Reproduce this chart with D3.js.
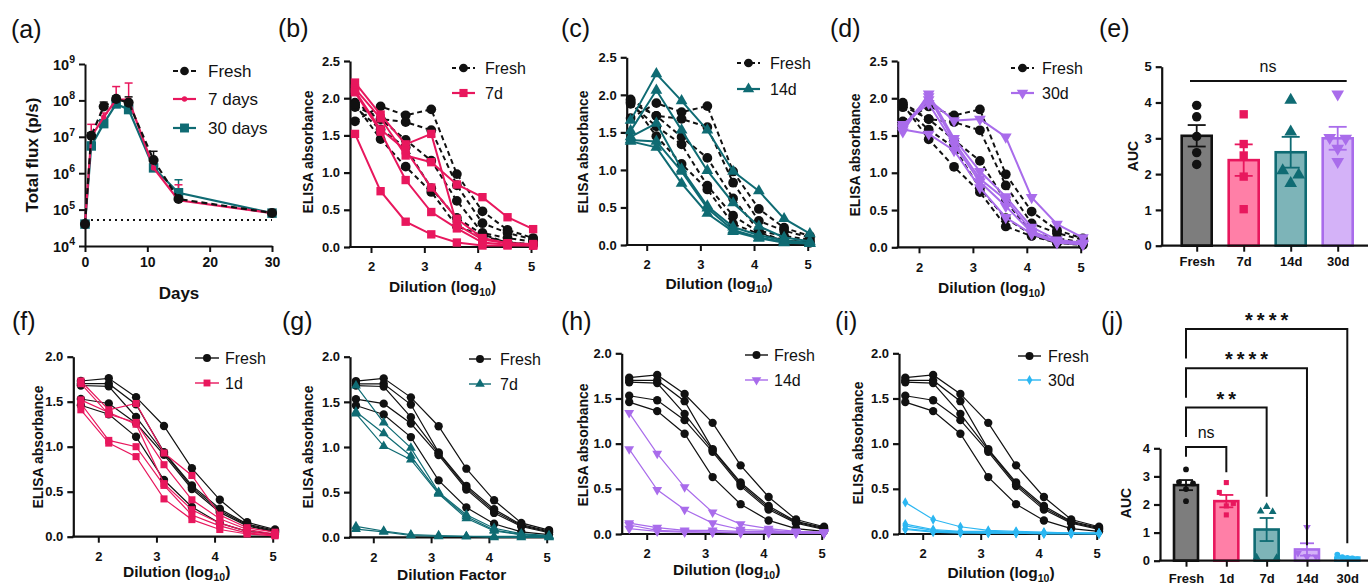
<!DOCTYPE html>
<html>
<head>
<meta charset="utf-8">
<script src="https://cdn.jsdelivr.net/npm/d3@7"></script>
<style>
  body { margin: 0; background: #fff; }
  svg { display: block; font-family: "Liberation Sans", Arial, sans-serif; }
</style>
</head>
<body>
<svg id="fig" width="1368" height="585"></svg>
<script>
// ---- data ----
const days = [0, 1, 3, 5, 7, 11, 15, 30];
const fluxFresh = [4e4, 1.07e7, 6.8e7, 1.1e8, 8.7e7, 2.3e6, 1.95e5, 8.1e4];
const fluxFreshUp = [4e4, 1.3e7, 9e7, 1.3e8, 1.25e8, 4e6, 2.3e5, 8.3e4];
const flux7 = [4e4, 1.0e7, 3.5e7, 1.05e8, 1.05e8, 1.4e6, 1.8e5, 8e4];
const flux7Up = [4e4, 2.2e7, 4.5e7, 2.4e8, 3e8, 1.8e6, 4.8e5, 8.2e4];
const flux30 = [4e4, 5.6e6, 2.3e7, 8e7, 5.6e7, 1.4e6, 2.9e5, 8e4];
const flux30Up = [4e4, 7e6, 2.8e7, 1.1e8, 9e7, 1.7e6, 6.6e5, 8.2e4];
const fluxLimit = 5.2e4;
const fluxTicks = [1e4, 1e5, 1e6, 1e7, 1e8, 1e9];

const dilutions = [1.70, 2.18, 2.65, 3.13, 3.61, 4.09, 4.56, 5.04];

const freshTop = [
  [1.69, 1.89, 1.77, 1.85, 0.98, 0.48, 0.23, 0.12],
  [1.94, 1.72, 1.68, 1.57, 0.83, 0.32, 0.19, 0.10],
  [1.90, 1.72, 1.44, 1.16, 0.62, 0.19, 0.12, 0.07],
  [1.88, 1.58, 1.34, 0.79, 0.39, 0.17, 0.06, 0.04],
  [1.92, 1.45, 1.08, 0.74, 0.28, 0.15, 0.06, 0.03]
];
const top7d = [
  [2.21, 1.78, 1.38, 1.52, 0.30, 0.10, 0.05, 0.04],
  [2.13, 1.73, 1.23, 1.14, 0.84, 0.67, 0.40, 0.24],
  [2.10, 1.58, 1.30, 0.80, 0.38, 0.12, 0.05, 0.03],
  [2.08, 1.55, 0.90, 0.47, 0.25, 0.06, 0.03, 0.02],
  [1.52, 0.75, 0.34, 0.17, 0.06, 0.02, 0.02, 0.02]
];
const top14d = [
  [1.66, 2.28, 1.92, 1.53, 0.98, 0.72, 0.35, 0.15],
  [1.52, 2.06, 1.53, 0.99, 0.56, 0.25, 0.10, 0.05],
  [1.44, 1.62, 1.01, 0.52, 0.24, 0.13, 0.06, 0.03],
  [1.40, 1.38, 0.98, 0.49, 0.20, 0.10, 0.04, 0.02],
  [1.38, 1.30, 0.82, 0.42, 0.18, 0.09, 0.03, 0.02]
];
const top30d = [
  [1.60, 1.98, 1.70, 1.72, 1.48, 0.67, 0.31, 0.13],
  [1.55, 2.06, 1.46, 1.02, 0.68, 0.27, 0.10, 0.06],
  [1.62, 2.02, 1.42, 0.92, 0.64, 0.22, 0.08, 0.05],
  [1.65, 1.93, 1.38, 0.88, 0.55, 0.20, 0.07, 0.04],
  [1.58, 1.52, 1.30, 0.80, 0.40, 0.18, 0.06, 0.04]
];

const freshBottom = [
  [1.73, 1.76, 1.55, 1.23, 0.76, 0.41, 0.16, 0.08],
  [1.70, 1.70, 1.47, 0.94, 0.57, 0.31, 0.14, 0.07],
  [1.68, 1.67, 1.33, 0.93, 0.55, 0.29, 0.13, 0.06],
  [1.53, 1.48, 1.26, 0.91, 0.53, 0.27, 0.12, 0.05],
  [1.46, 1.36, 1.11, 0.63, 0.33, 0.15, 0.06, 0.03]
];
const bottom1d = [
  [1.73, 1.41, 1.48, 0.93, 0.68, 0.24, 0.10, 0.05],
  [1.70, 1.36, 1.27, 0.80, 0.41, 0.20, 0.08, 0.03],
  [1.52, 1.38, 1.25, 0.59, 0.30, 0.15, 0.06, 0.02],
  [1.48, 1.07, 1.00, 0.57, 0.24, 0.12, 0.04, 0.02],
  [1.41, 1.04, 0.89, 0.42, 0.19, 0.08, 0.03, 0.01]
];
const bottom7d = [
  [1.68, 1.27, 0.99, 0.50, 0.25, 0.10, 0.04, 0.02],
  [1.39, 1.15, 0.90, 0.49, 0.23, 0.08, 0.03, 0.01],
  [1.37, 1.01, 0.86, 0.48, 0.21, 0.07, 0.03, 0.01],
  [0.12, 0.07, 0.03, 0.02, 0.01, 0.01, 0.01, 0.01],
  [0.09, 0.06, 0.02, 0.01, 0.01, 0.00, 0.00, 0.00]
];
const bottom14d = [
  [1.34, 0.89, 0.52, 0.24, 0.11, 0.06, 0.03, 0.02],
  [0.94, 0.49, 0.27, 0.12, 0.05, 0.04, 0.02, 0.01],
  [0.12, 0.07, 0.04, 0.04, 0.03, 0.03, 0.02, 0.02],
  [0.10, 0.04, 0.03, 0.02, 0.02, 0.02, 0.01, 0.01],
  [0.06, 0.03, 0.02, 0.02, 0.01, 0.01, 0.01, 0.01]
];
const bottom30d = [
  [0.35, 0.16, 0.08, 0.04, 0.03, 0.02, 0.01, 0.01],
  [0.11, 0.05, 0.03, 0.03, 0.02, 0.01, 0.01, 0.01],
  [0.09, 0.04, 0.02, 0.02, 0.01, 0.01, 0.01, 0.01],
  [0.06, 0.03, 0.02, 0.01, 0.01, 0.01, 0.01, 0.00],
  [0.05, 0.02, 0.01, 0.01, 0.01, 0.00, 0.00, 0.00]
];

const aucGroupsE = ['Fresh', '7d', '14d', '30d'];
const aucMeanE = [3.07, 2.39, 2.61, 3.00];
const aucSemE = [0.30, 0.44, 0.43, 0.32];
const aucPointsE = [
  [3.92, 3.60, 3.05, 2.60, 2.27],
  [3.67, 2.84, 2.52, 1.93, 1.02],
  [4.07, 3.18, 2.10, 1.98, 1.74],
  [4.23, 3.02, 3.00, 2.72, 2.35]
];

const aucGroupsJ = ['Fresh', '1d', '7d', '14d', '30d'];
const aucMeanJ = [2.69, 2.12, 1.11, 0.40, 0.11];
const aucSemJ = [0.18, 0.22, 0.41, 0.22, 0.03];
const aucPointsJ = [
  [3.25, 2.80, 2.75, 2.55, 2.12],
  [2.78, 2.43, 2.04, 1.95, 1.63],
  [1.92, 1.76, 1.74, 0.12, 0.11],
  [1.19, 0.27, 0.15, 0.14, 0.13],
  [0.22, 0.13, 0.10, 0.08, 0.06]
];
const statsJ = ['ns', '**', '****', '****'];

// ---- colours ----
const BLACK = '#111';
const PINK = '#e8175d', PINK_FILL = '#ff7fa7';
const TEAL = '#0f6b73', TEAL_FILL = '#7db4b8';
const PURPLE = '#a96ceb', PURPLE_FILL = '#d4b2f8';
const BLUE = '#2cb7f2', BLUE_FILL = '#a6dff7';
const GRAY_FILL = '#7d7d7d';
const FONT = '"Liberation Sans", Arial, sans-serif';

const svg = d3.select('#fig');

function marker(g, type, x, y, s, color) {
  const types = {
    circle: d3.symbolCircle, square: d3.symbolSquare, triangle: d3.symbolTriangle,
    down: d3.symbolTriangle, diamond: d3.symbolDiamond
  };
  g.append('path')
    .attr('d', d3.symbol().type(types[type]).size(s)())
    .attr('transform', `translate(${x},${y})` + (type === 'down' ? ' rotate(180)' : ''))
    .attr('fill', color);
}

function styleAxis(a, width) {
  a.attr('font-family', FONT);
  a.selectAll('path, line').attr('stroke', BLACK).attr('stroke-width', width);
  a.selectAll('text').attr('font-size', 13).attr('font-weight', 'bold').attr('fill', BLACK);
}

function panelLabel(txt, x, y) {
  svg.append('text').attr('x', x).attr('y', y).attr('font-size', 25).attr('fill', BLACK).text(txt);
}

function yTitle(txt, x, y, size) {
  svg.append('text').attr('transform', `translate(${x},${y}) rotate(-90)`)
    .attr('text-anchor', 'middle').attr('dominant-baseline', 'central')
    .attr('font-size', size).attr('font-weight', 'bold').attr('fill', BLACK).text(txt);
}

function xTitle(txt, x, y, log) {
  const t = svg.append('text').attr('x', x).attr('y', y).attr('text-anchor', 'middle')
    .attr('font-size', 15.5).attr('font-weight', 'bold').attr('fill', BLACK);
  if (log) {
    t.append('tspan').text('Dilution (log');
    t.append('tspan').attr('font-size', 10.5).attr('dy', 3.5).text('10');
    t.append('tspan').attr('dy', -3.5).text(')');
  } else {
    t.text(txt);
  }
}

// ---- (a) total flux ----
(function () {
  const x = d3.scaleLinear().domain([0, 30]).range([85, 272]);
  const y = d3.scaleLog().domain([1e4, 1e9]).range([246, 64]);
  const g = svg.append('g');

  const xa = g.append('g').attr('transform', 'translate(0,246)')
    .call(d3.axisBottom(x).tickValues([0, 10, 20, 30]).tickSize(6).tickPadding(5).tickSizeOuter(0));
  styleAxis(xa, 2);
  xa.selectAll('text').attr('font-size', 14);
  const ya = g.append('g').attr('transform', 'translate(85,0)')
    .call(d3.axisLeft(y).tickValues(fluxTicks).tickFormat('').tickSize(6).tickSizeOuter(0));
  styleAxis(ya, 2);
  fluxTicks.forEach(v => {
    const t = g.append('text').attr('x', 75).attr('y', y(v) + 5.5).attr('text-anchor', 'end')
      .attr('font-size', 14.5).attr('font-weight', 'bold').attr('fill', BLACK);
    t.append('tspan').text('10');
    t.append('tspan').attr('font-size', 10.5).attr('dy', -6.5).text(Math.round(Math.log10(v)));
  });

  g.append('line').attr('x1', x(0)).attr('x2', x(30)).attr('y1', y(fluxLimit)).attr('y2', y(fluxLimit))
    .attr('stroke', BLACK).attr('stroke-width', 2).attr('stroke-dasharray', '2,4');

  const series = [
    { v: flux30, up: flux30Up, c: TEAL, m: 'square', s: 90, dash: null },
    { v: flux7, up: flux7Up, c: PINK, m: 'circle', s: 22, dash: null },
    { v: fluxFresh, up: fluxFreshUp, c: BLACK, m: 'circle', s: 80, dash: '6,4' }
  ];
  series.forEach(sr => {
    sr.up.forEach((u, i) => {
      if (u <= sr.v[i] * 1.05) return;
      g.append('line').attr('x1', x(days[i])).attr('x2', x(days[i])).attr('y1', y(sr.v[i])).attr('y2', y(u))
        .attr('stroke', sr.c).attr('stroke-width', 1.5);
      g.append('line').attr('x1', x(days[i]) - 4).attr('x2', x(days[i]) + 4).attr('y1', y(u)).attr('y2', y(u))
        .attr('stroke', sr.c).attr('stroke-width', 1.5);
    });
  });
  series.forEach(sr => {
    g.append('path').datum(sr.v)
      .attr('d', d3.line().x((d, i) => x(days[i])).y(d => y(d)))
      .attr('fill', 'none').attr('stroke', sr.c).attr('stroke-width', 2.2)
      .attr('stroke-dasharray', sr.dash);
    sr.v.forEach((d, i) => marker(g, sr.m, x(days[i]), y(d), sr.s, sr.c));
  });

  // legend
  const leg = [
    { t: 'Fresh', c: BLACK, m: 'circle', s: 60, dash: '5,4', y: 71 },
    { t: '7 days', c: PINK, m: 'circle', s: 22, dash: null, y: 99 },
    { t: '30 days', c: TEAL, m: 'square', s: 80, dash: null, y: 128 }
  ];
  leg.forEach(l => {
    g.append('line').attr('x1', 173).attr('x2', 196).attr('y1', l.y).attr('y2', l.y)
      .attr('stroke', l.c).attr('stroke-width', 2.2).attr('stroke-dasharray', l.dash);
    marker(g, l.m, 184.5, l.y, l.s, l.c);
    g.append('text').attr('x', 208).attr('y', l.y).attr('dominant-baseline', 'central')
      .attr('font-size', 17).attr('fill', BLACK).text(l.t);
  });
})();

// ---- dilution curve panels ----
function dilutionPanel(p) {
  const g = svg.append('g');
  const x = d3.scaleLinear().domain([2, 5]).range([p.x2, p.x5]);
  const y = d3.scaleLinear().domain([0, p.ymax]).range([p.y0, p.yTop]);
  const top = p.ymax > 2.2;
  const lw = top ? 2 : 1.2;

  const xa = g.append('g').attr('transform', `translate(0,${p.y0})`)
    .call(d3.axisBottom(x).tickValues([2, 3, 4, 5]).tickFormat(d3.format('d')).tickSize(6).tickPadding(9));
  xa.select('.domain').remove();
  styleAxis(xa, 2);
  g.append('line').attr('x1', p.xL - 1).attr('x2', p.xR).attr('y1', p.y0).attr('y2', p.y0)
    .attr('stroke', BLACK).attr('stroke-width', 2.2);
  const ya = g.append('g').attr('transform', `translate(${p.xL},0)`)
    .call(d3.axisLeft(y).tickValues(d3.range(0, p.ymax + 0.01, 0.5)).tickFormat(d3.format('.1f'))
      .tickSize(6).tickPadding(4).tickSizeOuter(0));
  styleAxis(ya, 2.2);

  const line = d3.line().x((d, i) => x(dilutions[i])).y(d => y(d));
  const draw = (rows, c, m, s, dash) => {
    rows.forEach(r => {
      g.append('path').datum(r).attr('d', line).attr('fill', 'none')
        .attr('stroke', c).attr('stroke-width', lw).attr('stroke-dasharray', dash);
    });
    rows.forEach(r => r.forEach((d, i) => marker(g, m, x(dilutions[i]), y(d), s, c)));
  };
  draw(p.fresh, BLACK, 'circle', top ? 75 : 55, top ? '5,3.5' : null);
  draw(p.rows, p.color, p.marker, p.msize, null);

  // legend
  const L = p.legend;
  [['Fresh', BLACK, 'circle', top ? 60 : 50, top ? '4,3' : null, L.y1],
   [p.name, p.color, p.marker, p.msize * 0.95, null, L.y2]].forEach(l => {
    g.append('line').attr('x1', L.x1).attr('x2', L.x2).attr('y1', l[5]).attr('y2', l[5])
      .attr('stroke', l[1]).attr('stroke-width', top ? 2.2 : 1.4).attr('stroke-dasharray', l[4]);
    marker(g, l[2], (L.x1 + L.x2) / 2, l[5], l[3], l[1]);
    g.append('text').attr('x', L.tx).attr('y', l[5]).attr('dominant-baseline', 'central')
      .attr('font-size', 16).attr('fill', BLACK).text(l[0]);
  });
}

dilutionPanel({ xL: 350, x2: 371, x5: 531, xR: 537, y0: 247, yTop: 61, ymax: 2.5,
  fresh: freshTop, rows: top7d, color: PINK, marker: 'square', msize: 70, name: '7d',
  legend: { x1: 452, x2: 475, tx: 485, y1: 68, y2: 93 } });
dilutionPanel({ xL: 626.7, x2: 646.7, x5: 807.7, xR: 813, y0: 245, yTop: 57.3, ymax: 2.5,
  fresh: freshTop, rows: top14d, color: TEAL, marker: 'triangle', msize: 60, name: '14d',
  legend: { x1: 737, x2: 760, tx: 770, y1: 63, y2: 89 } });
dilutionPanel({ xL: 897.7, x2: 919, x5: 1080.7, xR: 1085, y0: 247.3, yTop: 61, ymax: 2.5,
  fresh: freshTop, rows: top30d, color: PURPLE, marker: 'down', msize: 60, name: '30d',
  legend: { x1: 1011, x2: 1034, tx: 1042, y1: 68, y2: 93 } });

dilutionPanel({ xL: 73.3, x2: 98.3, x5: 272.7, xR: 277, y0: 536.7, yTop: 356.7, ymax: 2,
  fresh: freshBottom, rows: bottom1d, color: PINK, marker: 'square', msize: 50, name: '1d',
  legend: { x1: 195, x2: 219, tx: 225, y1: 358, y2: 383 } });
dilutionPanel({ xL: 350, x2: 373.3, x5: 546.7, xR: 550, y0: 537.3, yTop: 356.7, ymax: 2,
  fresh: freshBottom, rows: bottom7d, color: TEAL, marker: 'triangle', msize: 42, name: '7d',
  legend: { x1: 469, x2: 491, tx: 500, y1: 359, y2: 384 } });
dilutionPanel({ xL: 621.7, x2: 646.7, x5: 821.7, xR: 825, y0: 534, yTop: 353.3, ymax: 2,
  fresh: freshBottom, rows: bottom14d, color: PURPLE, marker: 'down', msize: 42, name: '14d',
  legend: { x1: 745, x2: 768, tx: 774, y1: 355, y2: 380 } });
dilutionPanel({ xL: 899, x2: 922.7, x5: 1096.7, xR: 1100, y0: 534, yTop: 353.3, ymax: 2,
  fresh: freshBottom, rows: bottom30d, color: BLUE, marker: 'diamond', msize: 30, name: '30d',
  legend: { x1: 1018, x2: 1041, tx: 1048, y1: 356, y2: 380 } });

// ---- AUC bar panels ----
function barPanel(p) {
  const g = svg.append('g');
  const x = d3.scalePoint().domain(p.groups).range([p.c0, p.c1]);
  const y = d3.scaleLinear().domain([0, p.ymax]).range([p.y0, p.yTop]);

  p.groups.forEach((grp, i) => {
    const cx = x(grp);
    g.append('rect').attr('x', cx - p.bw / 2).attr('width', p.bw)
      .attr('y', y(p.mean[i])).attr('height', p.y0 - y(p.mean[i]))
      .attr('fill', p.fills[i]).attr('stroke', p.strokes[i]).attr('stroke-width', 2.6);
    const lo = y(p.mean[i] - p.sem[i]), hi = y(p.mean[i] + p.sem[i]);
    g.append('line').attr('x1', cx).attr('x2', cx).attr('y1', lo).attr('y2', hi)
      .attr('stroke', p.strokes[i]).attr('stroke-width', 1.8);
    [lo, hi].forEach(yy => g.append('line').attr('x1', cx - p.cap).attr('x2', cx + p.cap)
      .attr('y1', yy).attr('y2', yy).attr('stroke', p.strokes[i]).attr('stroke-width', 1.8));
  });
  p.groups.forEach((grp, i) => {
    p.points[i].forEach((v, k) => {
      marker(g, p.markers[i], x(grp) + p.jitter[i][k], y(v), p.msize, p.strokes[i]);
    });
  });

  const xa = g.append('g').attr('transform', `translate(0,${p.y0})`)
    .call(d3.axisBottom(x).tickSize(6).tickPadding(p.pad));
  xa.select('.domain').remove();
  styleAxis(xa, 2);
  g.append('line').attr('x1', p.xL - 1).attr('x2', p.xR).attr('y1', p.y0).attr('y2', p.y0)
    .attr('stroke', BLACK).attr('stroke-width', 2.2);
  const ya = g.append('g').attr('transform', `translate(${p.xL},0)`)
    .call(d3.axisLeft(y).ticks(p.ymax).tickFormat(d3.format('d')).tickSize(6).tickPadding(4).tickSizeOuter(0));
  styleAxis(ya, 2.2);
  return { g, x, y };
}

(function () {
  const b = barPanel({ groups: aucGroupsE, mean: aucMeanE, sem: aucSemE, points: aucPointsE,
    c0: 1196.7, c1: 1337.7, bw: 30, cap: 9, xL: 1161.7, xR: 1368, y0: 245.7, yTop: 66.7, ymax: 5, pad: 5,
    fills: [GRAY_FILL, PINK_FILL, TEAL_FILL, PURPLE_FILL], strokes: [BLACK, PINK, TEAL, PURPLE],
    markers: ['circle', 'square', 'triangle', 'down'], msize: 70,
    jitter: [[0, 0, 0, 0, 0], [0, 0, 0, 0, 0], [0, 0, -8, 8, 0], [0, -8, 8, 0, 0]] });
  const yy = b.y(4.6);
  b.g.append('line').attr('x1', 1190).attr('x2', 1346.7).attr('y1', yy).attr('y2', yy)
    .attr('stroke', BLACK).attr('stroke-width', 2.2);
  b.g.append('text').attr('x', 1268).attr('y', yy - 9).attr('text-anchor', 'middle')
    .attr('font-size', 16).attr('fill', BLACK).text('ns');
})();

(function () {
  const b = barPanel({ groups: aucGroupsJ, mean: aucMeanJ, sem: aucSemJ, points: aucPointsJ,
    c0: 1186, c1: 1347.3, bw: 24, cap: 7, xL: 1160, xR: 1368, y0: 560.7, yTop: 448.3, ymax: 4, pad: 7,
    fills: [GRAY_FILL, PINK_FILL, TEAL_FILL, PURPLE_FILL, BLUE_FILL], strokes: [BLACK, PINK, TEAL, PURPLE, BLUE],
    markers: ['circle', 'square', 'triangle', 'down', 'circle'], msize: 26,
    jitter: [[0, -7, 7, 0, 0], [0, -7, 7, 0, 0], [0, -6, 6, -10, 10], [0, -9, 0, 9, 0], [-10, -5, 0, 5, 10]] });
  // comparison brackets against Fresh
  const levels = [4.05, 5.45, 6.85, 8.25];
  const rightEnd = [3.15, 2.28, 0.55, 0.62];
  statsJ.forEach((s, i) => {
    const x0 = b.x('Fresh'), x1 = b.x(aucGroupsJ[i + 1]);
    const yl = b.y(levels[i]);
    const drop = i === 0 ? 0.35 : 1.05;
    b.g.append('path')
      .attr('d', `M${x0},${b.y(levels[i] - drop)}V${yl}H${x1}V${b.y(rightEnd[i])}`)
      .attr('fill', 'none').attr('stroke', BLACK).attr('stroke-width', 2);
    const mid = (x0 + x1) / 2;
    if (s === 'ns') {
      b.g.append('text').attr('x', mid).attr('y', yl - 9).attr('text-anchor', 'middle')
        .attr('font-size', 16).attr('fill', BLACK).text(s);
    } else {
      b.g.append('text').attr('x', mid + 2).attr('y', yl - 2).attr('text-anchor', 'middle')
        .attr('font-size', 20).attr('font-weight', 'bold').attr('letter-spacing', 4)
        .attr('fill', BLACK).text(s);
    }
  });
})();

// ---- labels and titles ----
panelLabel('(a)', 11, 38); panelLabel('(b)', 278, 37); panelLabel('(c)', 561, 37);
panelLabel('(d)', 830, 37); panelLabel('(e)', 1099, 37);
panelLabel('(f)', 12, 330); panelLabel('(g)', 282, 330); panelLabel('(h)', 561, 330);
panelLabel('(i)', 835, 330); panelLabel('(j)', 1101, 330);

yTitle('Total flux (p/s)', 32.5, 155, 17);
yTitle('ELISA absorbance', 308, 152, 14); yTitle('ELISA absorbance', 583, 152, 14);
yTitle('ELISA absorbance', 855, 155, 14); yTitle('AUC', 1133, 156, 14);
yTitle('ELISA absorbance', 38, 447, 14); yTitle('ELISA absorbance', 308, 447, 14);
yTitle('ELISA absorbance', 583, 445, 14); yTitle('ELISA absorbance', 858, 443, 14);
yTitle('AUC', 1126, 503, 14);

svg.append('text').attr('x', 179).attr('y', 299).attr('text-anchor', 'middle')
  .attr('font-size', 17).attr('font-weight', 'bold').attr('fill', BLACK).text('Days');
xTitle('', 442.5, 292, true); xTitle('', 719, 289, true); xTitle('', 991.7, 293, true);
xTitle('', 176.7, 577, true); xTitle('Dilution Factor', 451.7, 579.5, false);
xTitle('', 726.7, 575, true); xTitle('', 1001, 578, true);
</script>
</body>
</html>
